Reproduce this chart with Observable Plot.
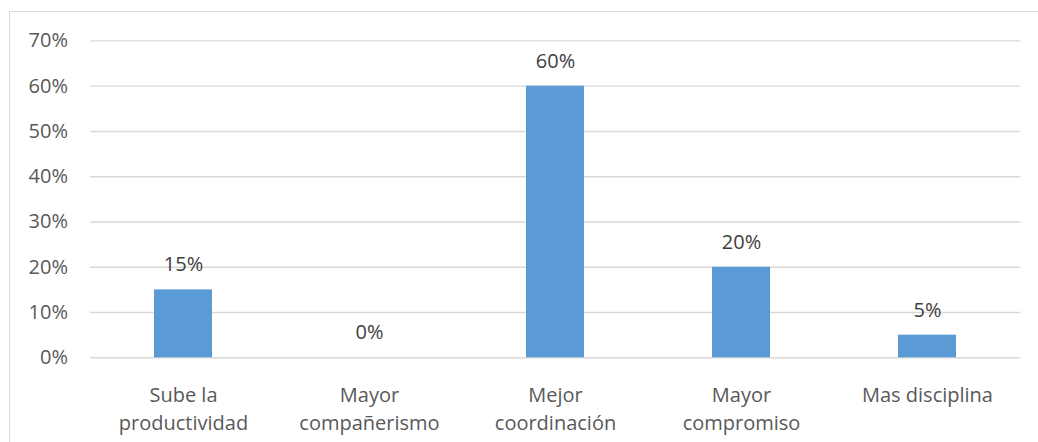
<!DOCTYPE html>
<html>
<head>
<meta charset="utf-8">
<script src="https://cdn.jsdelivr.net/npm/d3@7"></script>
<script src="https://cdn.jsdelivr.net/npm/@observablehq/plot@0.6"></script>
<style>
  html, body { margin: 0; padding: 0; background: #fff; }
  #wrap { position: relative; width: 1038px; height: 442px; overflow: hidden; }
  #frame { position: absolute; left: 9px; top: 11px; right: -2px; bottom: -2px;
           border-left: 1px solid #d9d9d9; border-top: 1px solid #d9d9d9; }
  #chart { position: absolute; left: 0; top: 0; }
</style>
</head>
<body>
<div id="wrap">
  <div id="frame"></div>
  <div id="chart"></div>
</div>
<script>
// Survey answers and their shares
const categories = ["Sube la productividad", "Mayor compañerismo", "Mejor coordinación", "Mayor compromiso", "Mas disciplina"];
const tickLabels = ["Sube la\nproductividad", "Mayor\ncompañerismo", "Mejor\ncoordinación", "Mayor\ncompromiso", "Mas disciplina"];
const values = [0.15, 0, 0.60, 0.20, 0.05];
const yTicks = [0, 0.1, 0.2, 0.3, 0.4, 0.5, 0.6, 0.7];

const data = categories.map((c, i) => ({category: c, value: values[i]}));
const labelOf = new Map(categories.map((c, i) => [c, tickLabels[i]]));
const pct = d3.format(".0%");
const font = "'Open Sans', 'Noto Sans', sans-serif";

const chart = Plot.plot({
  width: 1038,
  height: 442,
  marginLeft: 90,
  marginRight: 17.5,
  marginTop: 40.4,
  marginBottom: 84.7,
  style: {fontFamily: font, fontSize: "20px", color: "#595959", background: "transparent"},
  x: {domain: categories, paddingInner: 0.688, paddingOuter: 0.344, label: null},
  y: {domain: [0, 0.7], label: null},
  marks: [
    Plot.ruleY(yTicks, {stroke: "#d9d9d9", strokeWidth: 1.4}),
    Plot.axisY(yTicks, {tickSize: 0, tickPadding: 22.5, tickFormat: pct, fontSize: 20, fill: "#595959", label: null}),
    Plot.axisX({tickSize: 0, tickPadding: 24.5, tickFormat: d => labelOf.get(d), lineHeight: 1.4, fontSize: 20, fill: "#595959", label: null}),
    Plot.barY(data, {x: "category", y: "value", fill: "#5b9bd5"}),
    Plot.text(data, {x: "category", y: "value", text: d => pct(d.value), dy: -18.5, lineAnchor: "bottom", fontSize: 20, fill: "#404040"})
  ]
});
document.getElementById("chart").appendChild(chart);
</script>
</body>
</html>
